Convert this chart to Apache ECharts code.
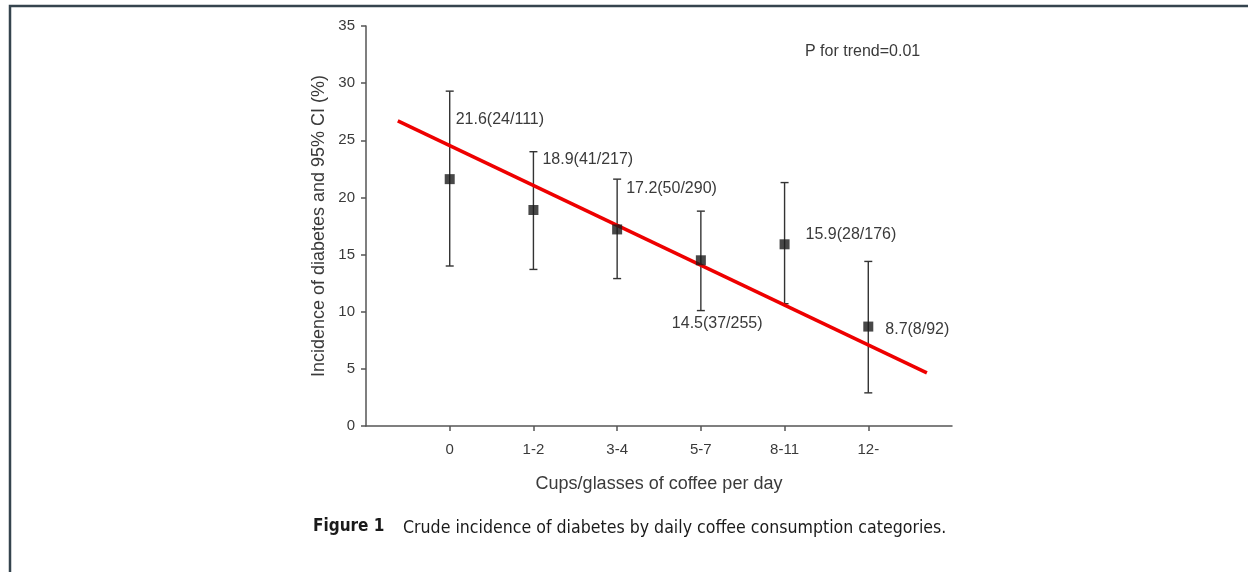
<!DOCTYPE html>
<html>
<head>
<meta charset="utf-8">
<script src="https://cdn.jsdelivr.net/npm/echarts@6/dist/echarts.min.js"></script>
<style>
  html, body { margin: 0; padding: 0; background: #ffffff; }
  #chart { width: 1248px; height: 572px; }
</style>
</head>
<body>
<div id="chart"></div>
<script>
// ---- data ----
const categories = ['0', '1-2', '3-4', '5-7', '8-11', '12-'];
const incidence = [21.6, 18.9, 17.2, 14.5, 15.9, 8.7];
const ciLower = [14.0, 13.7, 12.9, 10.1, 10.7, 2.9];
const ciUpper = [29.3, 24.0, 21.6, 18.8, 21.3, 14.4];
const cases = [24, 41, 50, 37, 28, 8];
const totals = [111, 217, 290, 255, 176, 92];
const trendLine = [[-0.62, 26.7], [5.70, 4.65]];
const yTicks = [0, 5, 10, 15, 20, 25, 30, 35];

// ---- layout (label placement relative to the point, in px) ----
const labelOffsets = [[6, -60], [9, -50], [9, -41], [-29, 63], [21, -10], [17, 3]];

const chart = echarts.init(document.getElementById('chart'));
const font = "'Liberation Sans', Arial, sans-serif";
const capFont = "'Liberation Sans Narrow', 'DejaVu Sans Condensed', sans-serif";
const axisColor = '#555555';
const textColor = '#3a3a3a';

const errData = categories.map((c, i) => [i, ciLower[i], ciUpper[i], incidence[i]]);

chart.setOption({
  animation: false,
  grid: { left: 366, right: 296, top: 26, bottom: 146 },
  xAxis: {
    type: 'value',
    min: -1, max: 6, interval: 1,
    splitLine: { show: false },
    axisLine: { show: true, onZero: false, lineStyle: { color: axisColor, width: 1.5 } },
    axisTick: { show: true, length: 5, customValues: [0, 1, 2, 3, 4, 5], lineStyle: { color: axisColor, width: 1.5 } },
    axisLabel: {
      customValues: [0, 1, 2, 3, 4, 5],
      formatter: v => categories[v],
      margin: 16, fontFamily: font, fontSize: 15, color: textColor
    },
    name: 'Cups/glasses of coffee per day',
    nameLocation: 'middle', nameGap: 49,
    nameTextStyle: { fontFamily: font, fontSize: 18, color: textColor }
  },
  yAxis: {
    type: 'value',
    min: 0, max: 35, interval: 5,
    splitLine: { show: false },
    axisLine: { show: true, onZero: false, lineStyle: { color: axisColor, width: 1.5 } },
    axisTick: { show: true, length: 5, lineStyle: { color: axisColor, width: 1.5 } },
    axisLabel: { margin: 11, fontFamily: font, fontSize: 15, color: textColor,
      customValues: yTicks },
    name: 'Incidence of diabetes and 95% CI (%)',
    nameLocation: 'middle', nameGap: 38,
    nameTextStyle: { fontFamily: font, fontSize: 18, color: textColor }
  },
  series: [
    {
      type: 'custom',
      z: 1,
      data: errData,
      renderItem: function (params, api) {
        const i = params.dataIndex;
        const x = api.value(0);
        const lo = api.coord([x, api.value(1)]);
        const hi = api.coord([x, api.value(2)]);
        const pt = api.coord([x, api.value(3)]);
        const cw = 4;
        const style = { stroke: '#333333', lineWidth: 1.4, fill: null };
        const off = labelOffsets[i];
        return {
          type: 'group',
          children: [
            { type: 'line', shape: { x1: lo[0], y1: lo[1], x2: hi[0], y2: hi[1] }, style },
            { type: 'line', shape: { x1: lo[0] - cw, y1: lo[1], x2: lo[0] + cw, y2: lo[1] }, style },
            { type: 'line', shape: { x1: hi[0] - cw, y1: hi[1], x2: hi[0] + cw, y2: hi[1] }, style },
            { type: 'text', z2: 5, style: {
                x: pt[0] + off[0], y: pt[1] + off[1],
                text: incidence[i] + '(' + cases[i] + '/' + totals[i] + ')',
                font: '16px ' + font, fill: textColor,
                textAlign: 'left', textVerticalAlign: 'middle'
            } }
          ]
        };
      }
    },
    {
      type: 'line',
      z: 2,
      data: trendLine,
      showSymbol: false,
      lineStyle: { color: '#ee0000', width: 3.5 },
      silent: true
    },
    {
      type: 'scatter',
      z: 3,
      data: incidence.map((v, i) => [i, v]),
      symbol: 'rect',
      symbolSize: 10,
      itemStyle: { color: '#1a1a1a' }
    }
  ],
  graphic: [
    { type: 'polyline', shape: { points: [[10, 580], [10, 6], [1260, 6]] },
      style: { stroke: '#35444e', lineWidth: 2.5, fill: null } },
    { type: 'text', left: 805, top: 44,
      style: { text: 'P for trend=0.01', font: '16px ' + font, fill: textColor } },
    { type: 'text', left: 313, top: 518,
      style: { text: 'Figure 1', font: 'bold 17px ' + capFont, fill: '#1a1a1a' } },
    { type: 'text', left: 403, top: 519,
      style: { text: 'Crude incidence of diabetes by daily coffee consumption categories.',
        font: '17.6px ' + capFont, fill: '#1a1a1a' } }
  ]
});
</script>
</body>
</html>
